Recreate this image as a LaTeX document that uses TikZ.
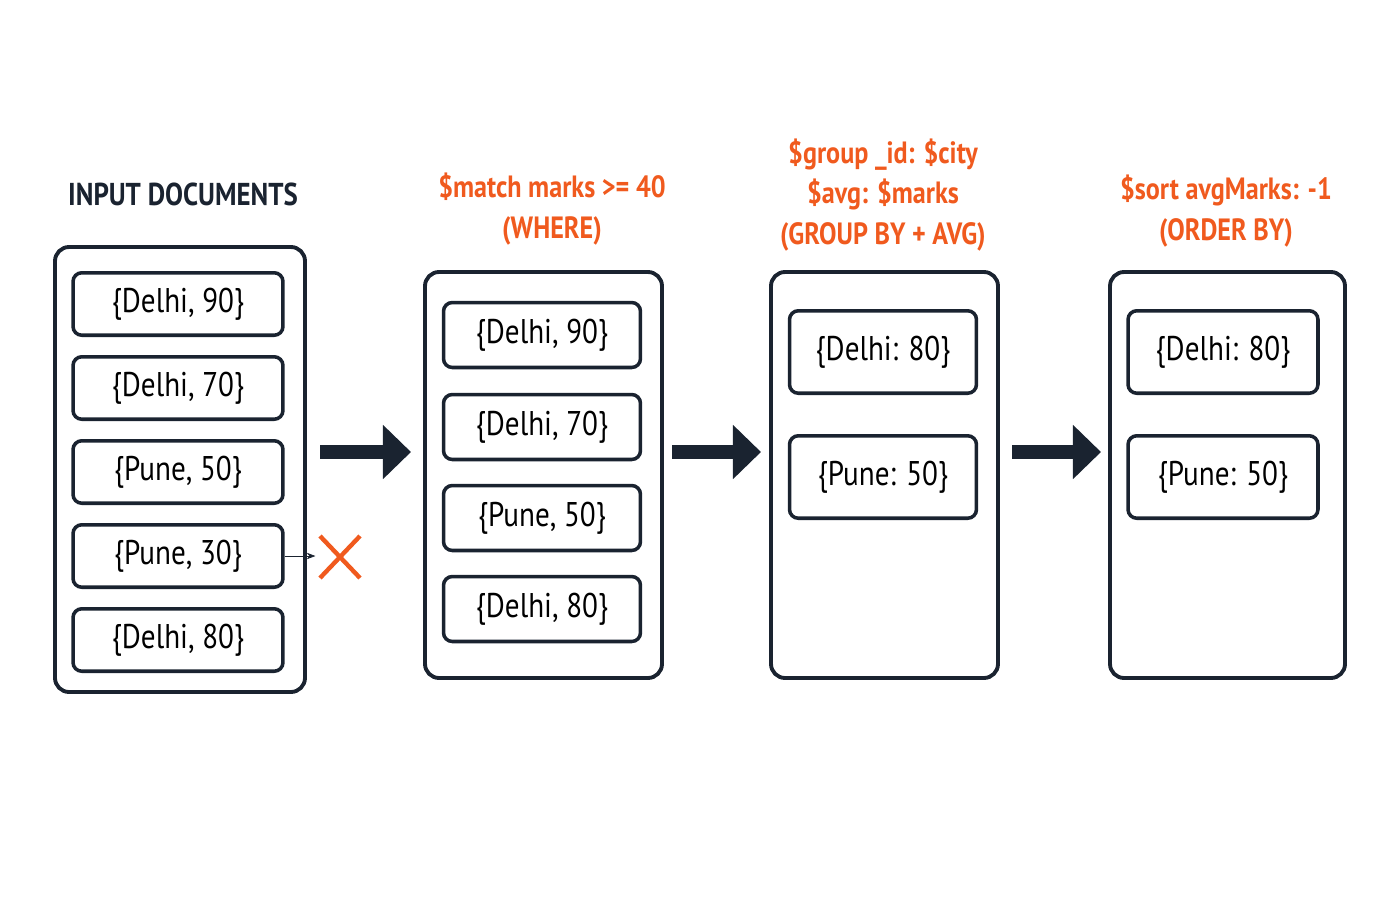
\documentclass[tikz,border=0pt]{standalone}
\usepackage{fontspec}
\setmainfont{PT Sans}[FakeStretch=0.85]
\usetikzlibrary{arrows.meta}
\definecolor{ink}{HTML}{1A2330}
\definecolor{hot}{HTML}{F05A1E}
\tikzset{
  stage/.style={draw=ink, line width=2.2pt, rounded corners=8pt},
  doc/.style={draw=ink, line width=2pt, rounded corners=5pt, font=\fontsize{19.5}{22}\selectfont},
  title/.style={font=\fontsize{18}{22}\selectfont\bfseries, text=ink},
  op/.style={font=\fontsize{17.5}{23}\selectfont\bfseries, text=hot, align=center},
  flow/.style={-{Triangle[length=16pt,width=30pt]}, line width=8pt, draw=ink}
}
\begin{document}
\begin{tikzpicture}[x=0.02cm, y=-0.02cm]
  \useasboundingbox (0,0) rectangle (1400,900);

  % stage boxes
  \draw[stage] (55,247) rectangle (305,692);
  \draw[stage] (425,272) rectangle (662,678);
  \draw[stage] (771,272) rectangle (998,678);
  \draw[stage] (1110,272) rectangle (1345,678);

  % captions
  \node[title] (t1) at (183,194) {INPUT DOCUMENTS};
  \node[op] (t2) at (552,209) {\$match marks >= 40\\(WHERE)};
  \node[op] (t3) at (883,195) {\$group \_id: \$city\\\$avg: \$marks\\(GROUP BY + AVG)};
  \node[op] (t4) at (1226,211) {\$sort avgMarks: -1\\(ORDER BY)};

  % input documents
  \foreach \y/\txt [count=\i] in {304/{Delhi, 90},388/{Delhi, 70},472/{Pune, 50},556/{Pune, 30},640/{Delhi, 80}}
    \node[doc, minimum width=4.2cm, minimum height=1.25cm] (a\i) at (178,\y) {\{\txt\}};

  % after match
  \foreach \y/\txt [count=\i] in {335/{Delhi, 90},427/{Delhi, 70},518/{Pune, 50},609/{Delhi, 80}}
    \node[doc, minimum width=3.94cm, minimum height=1.3cm] (b\i) at (542,\y) {\{\txt\}};

  % after group
  \foreach \y/\txt [count=\i] in {352/{Delhi: 80},477/{Pune: 50}}
    \node[doc, minimum width=3.74cm, minimum height=1.65cm] (c\i) at (883,\y) {\{\txt\}};

  % after sort
  \foreach \y/\txt [count=\i] in {352/{Delhi: 80},477/{Pune: 50}}
    \node[doc, minimum width=3.8cm, minimum height=1.65cm] (d\i) at (1223,\y) {\{\txt\}};

  % flow arrows
  \coordinate (f1a) at (320,452); \coordinate (f1b) at (411,452);
  \coordinate (f2a) at (672,452); \coordinate (f2b) at (761,452);
  \coordinate (f3a) at (1012,452); \coordinate (f3b) at (1101,452);
  \draw[flow] (f1a) -- (f1b);
  \draw[flow] (f2a) -- (f2b);
  \draw[flow] (f3a) -- (f3b);

  % dropped document
  \coordinate (drop) at (340,556);
  \draw[-{Stealth[length=5pt]}, thin, ink] (a4.east) -- ([xshift=-14]drop);
  \draw[hot, line width=2.5pt] (320,536) -- (360,578) (320,578) -- (360,536);
\end{tikzpicture}
\end{document}
